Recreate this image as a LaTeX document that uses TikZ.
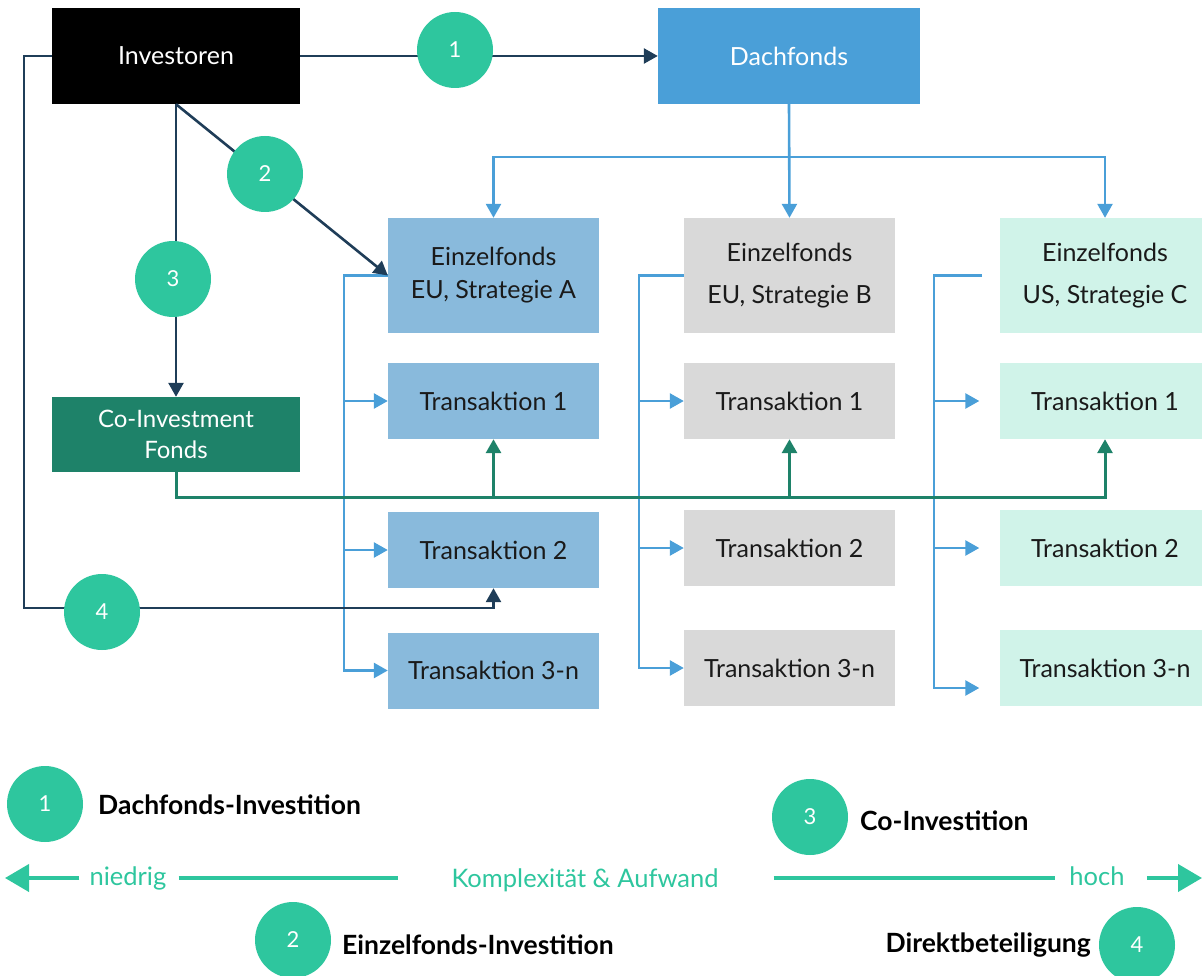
\documentclass[tikz,border=0pt]{standalone}
\usepackage{fontspec}
\setmainfont{Lato}
\usetikzlibrary{arrows.meta,calc}
\definecolor{navy}{HTML}{1F3D58}
\definecolor{teal}{HTML}{2EC69E}
\definecolor{dblue}{HTML}{4A9FD8}
\definecolor{colA}{HTML}{89BADC}
\definecolor{colB}{HTML}{D9D9D9}
\definecolor{colC}{HTML}{D0F3E9}
\definecolor{cogreen}{HTML}{1E8269}
\definecolor{txt}{HTML}{1A1A1A}
\begin{document}
\begin{tikzpicture}[x=1pt,y=-1pt,
  base/.style={rectangle, inner sep=0pt, align=center, font=\fontsize{25}{33}\selectfont},
  topbox/.style={base, minimum width=#1, minimum height=96pt, text=white},
  boxA/.style={base, fill=colA, text=txt, minimum width=211pt, minimum height=76pt},
  boxB/.style={base, fill=colB, text=txt, minimum width=211pt, minimum height=76pt},
  boxC/.style={base, fill=colC, text=txt, minimum width=211pt, minimum height=76pt},
  num/.style={circle, fill=teal, draw=none, minimum size=76pt, inner sep=0pt, text=white, font=\fontsize{22}{26}\selectfont},
  leg/.style={inner sep=0pt, text=black, font=\bfseries\fontsize{26.5}{30}\selectfont},
  axtxt/.style={inner sep=0pt, text=teal, font=\fontsize{25.5}{29}\selectfont},
  navyline/.style={draw=navy, line width=2.6pt},
  blueline/.style={draw=dblue, line width=2.6pt},
  greenline/.style={draw=cogreen, line width=3pt},
  axis/.style={draw=teal, line width=4pt},
  tip/.style={-{Triangle[length=14pt,width=15pt]}},
  bigtip/.style={-{Triangle[length=24pt,width=27pt]}}
]
\useasboundingbox (0,0) rectangle (1202,976);

% top boxes
\node[topbox=248pt, fill=black] (inv) at (176,56) {Investoren};
\node[topbox=262pt, fill=dblue] (dach) at (789,56) {Dachfonds};
\node[base, fill=cogreen, text=white, minimum width=248pt, minimum height=75pt, font=\fontsize{24}{31}\selectfont] (coinv) at (176,434.5) {Co-Investment\\Fonds};

% Einzelfonds
\node[boxA, minimum height=115pt] (eA) at (493.5,275.5) {Einzelfonds\\EU, Strategie A};
\node[boxB, minimum height=115pt, font=\fontsize{25}{42}\selectfont] (eB) at (789.5,275.5) {Einzelfonds\\EU, Strategie B};
\node[boxC, minimum height=115pt, font=\fontsize{25}{42}\selectfont] (eC) at (1105,275.5) {Einzelfonds\\US, Strategie C};

% Transaktionen
\node[boxA] (tA1) at (493.5,401) {Transaktion 1};
\node[boxA] (tA2) at (493.5,550) {Transaktion 2};
\node[boxA] (tA3) at (493.5,670.5) {Transaktion 3-n};
\node[boxB] (tB1) at (789.5,401) {Transaktion 1};
\node[boxB] (tB2) at (789.5,548) {Transaktion 2};
\node[boxB] (tB3) at (789.5,668) {Transaktion 3-n};
\node[boxC] (tC1) at (1105,401) {Transaktion 1};
\node[boxC] (tC2) at (1105,548) {Transaktion 2};
\node[boxC] (tC3) at (1105,668) {Transaktion 3-n};

% bus coordinates
\coordinate (dBus) at (789,157);
\coordinate (aBus) at (344,275.5);
\coordinate (bBus) at (639,275.5);
\coordinate (cBus) at (934,275.5);
\coordinate (cStart) at (982,275.5);
\coordinate (gBus) at (176,497);
\coordinate (dL) at (24,608);
\coordinate (dLL) at (24,56);

% Dachfonds -> Einzelfonds
\draw[blueline, tip] (dach.south) -- (eB.north);
\draw[blueline, tip] (dBus) -| (eA.north);
\draw[blueline, tip] (dBus) -| (eC.north);

% Einzelfonds -> Transaktionen
\draw[blueline, tip] (eA.west) -- (aBus) |- (tA3.west);
\draw[blueline, tip] (aBus |- tA1.west) -- (tA1.west);
\draw[blueline, tip] (aBus |- tA2.west) -- (tA2.west);
\draw[blueline, tip] (eB.west) -- (bBus) |- (tB3.west);
\draw[blueline, tip] (bBus |- tB1.west) -- (tB1.west);
\draw[blueline, tip] (bBus |- tB2.west) -- (tB2.west);
\draw[blueline, tip, shorten >=20pt] (cStart) -- (cBus) |- ([yshift=-20pt]tC3.west);
\draw[blueline, tip, shorten >=20pt] (cBus |- tC1.west) -- (tC1.west);
\draw[blueline, tip, shorten >=20pt] (cBus |- tC2.west) -- (tC2.west);

% Co-Investment -> Transaktion 1
\draw[greenline, tip] (coinv.south) |- (gBus -| tC1.south) -- (tC1.south);
\draw[greenline, tip] (gBus -| tA1.south) -- (tA1.south);
\draw[greenline, tip] (gBus -| tB1.south) -- (tB1.south);

% Investoren connectors
\draw[navyline, tip] (inv.east) -- (dach.west);
\draw[navyline, tip] (inv.south) -- (eA.west);
\draw[navyline, tip] (inv.south) -- (coinv.north);
\draw[navyline, tip] (inv.west) -- (dLL) -- (dL) -| (tA2.south);

% numbered circles
\node[num] (c1) at (455,50) {1};
\node[num] (c2) at (265,174) {2};
\node[num] (c3) at (173,279) {3};
\node[num] (c4) at (102,612) {4};

% legend
\node[num] (l1) at (45,804) {1};
\node[leg, anchor=west] (L1) at (98,805) {Dachfonds-Investition};
\node[num] (l2) at (293,940) {2};
\node[leg, anchor=west] (L2) at (342,945) {Einzelfonds-Investition};
\node[num] (l3) at (810,817) {3};
\node[leg, anchor=west] (L3) at (860,821) {Co-Investition};
\node[num] (l4) at (1137,945) {4};
\node[leg, anchor=east] (L4) at (1091,945) {Direktbeteiligung};

% axis
\coordinate (axL) at (5,878);
\coordinate (axR) at (1202,878);
\node[axtxt] (nied) at (128,878) {niedrig};
\node[axtxt] (komp) at (585,880) {Komplexität \& Aufwand};
\node[axtxt] (hoch) at (1097,876) {hoch};
\draw[axis, bigtip] ([xshift=-10pt]nied.west |- axL) -- (axL);
\draw[axis] ([xshift=12pt]nied.east |- axL) -- ([xshift=-53pt]komp.west |- axL);
\draw[axis] ([xshift=55pt]komp.east |- axL) -- ([xshift=-14pt]hoch.west |- axL);
\draw[axis, bigtip] ([xshift=22pt]hoch.east |- axR) -- (axR);
\end{tikzpicture}
\end{document}
